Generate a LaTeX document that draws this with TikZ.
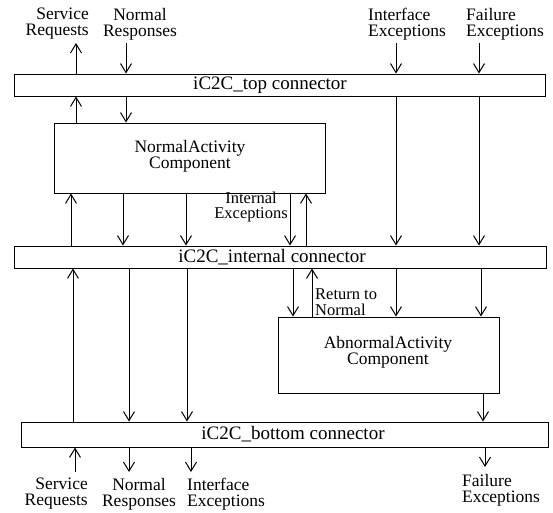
\documentclass[tikz,border=0pt]{standalone}
\usepackage{fontspec}
\setmainfont{Liberation Serif}
\usetikzlibrary{arrows.meta}
\begin{document}
\begin{tikzpicture}[x=1pt,y=-1pt,
  box/.style={draw,line width=1pt,inner sep=0pt,rectangle},
  lbl/.style={inner sep=0pt,font=\fontsize{17.5}{16}\selectfont},
  ctxt/.style={inner sep=0pt,font=\fontsize{19}{15}\selectfont},
  tight/.style={inner sep=0pt,font=\fontsize{16.5}{15.5}\selectfont},
  arr/.style={-{Straight Barb[length=9pt,width=11pt,line width=1pt]},line width=1pt}]
\useasboundingbox (0,0) rectangle (553,512);
% boxes
\node[box,minimum width=531pt,minimum height=22pt] (top) at (279.5,85) {};
\node[ctxt] (toptext) at (270,85) {iC2C\_top connector};
\node[box,minimum width=271pt,minimum height=70pt] (na) at (189.5,158) {};
\node[lbl,align=center] (natext) at (190,156.5) {NormalActivity\\Component};
\node[box,minimum width=532pt,minimum height=22pt] (int) at (280,257) {};
\node[ctxt] (inttext) at (272,257) {iC2C\_internal connector};
\node[box,minimum width=221pt,minimum height=76pt] (ab) at (388.5,355) {};
\node[lbl,align=center] (abtext) at (388,352.5) {AbnormalActivity\\Component};
\node[box,minimum width=527pt,minimum height=25pt] (bot) at (284.5,434.5) {};
\node[ctxt] (bottext) at (293,434.5) {iC2C\_bottom connector};
% top labels
\node[lbl,align=right,anchor=east] (sr1) at (89,24) {Service\\Requests};
\node[lbl,align=center] (nr1) at (140,24) {Normal\\Responses};
\node[lbl,align=left,anchor=west] (ie1) at (368,24) {Interface\\Exceptions};
\node[lbl,align=left,anchor=west] (fe1) at (466,24) {Failure\\Exceptions};
\node[tight,align=center] (iex) at (251,207) {Internal\\Exceptions};
\node[tight,align=left,anchor=west] (rtn) at (315,302) {Return to\\Normal};
% bottom labels
\node[lbl,align=right,anchor=east] (sr2) at (88,494) {Service\\Requests};
\node[lbl,align=center] (nr2) at (139,494) {Normal\\Responses};
\node[lbl,align=left,anchor=west] (ie2) at (187,494) {Interface\\Exceptions};
\node[lbl,align=left,anchor=west] (fe2) at (462,490) {Failure\\Exceptions};
% free ends
\coordinate (t1) at (76,43);
\coordinate (t2) at (126,43);
\coordinate (t3) at (396,43);
\coordinate (t4) at (479,43);
\coordinate (b1) at (75,472);
\coordinate (b2) at (129,472);
\coordinate (b3) at (191,472);
\coordinate (b4) at (485,467);
% above top
\draw[arr] (top.north -| t1) -- (t1);
\draw[arr] (t2) -- (top.north -| t2);
\draw[arr] (t3) -- (top.north -| t3);
\draw[arr] (t4) -- (top.north -| t4);
% top <-> NA
\draw[arr] (na.north -| 76,0) -- (top.south -| 76,0);
\draw[arr] (top.south -| 126,0) -- (na.north -| 126,0);
% top -> internal
\draw[arr] (top.south -| 396,0) -- (int.north -| 396,0);
\draw[arr] (top.south -| 479,0) -- (int.north -| 479,0);
% NA <-> internal
\draw[arr] (int.north -| 71,0) -- (na.south -| 71,0);
\draw[arr] (na.south -| 123,0) -- (int.north -| 123,0);
\draw[arr] (na.south -| 186,0) -- (int.north -| 186,0);
\draw[arr] (na.south -| 290,0) -- (int.north -| 290,0);
\draw[arr] (int.north -| 306,0) -- (na.south -| 306,0);
% internal <-> bottom
\draw[arr] (bot.north -| 73,0) -- (int.south -| 73,0);
\draw[arr] (int.south -| 129,0) -- (bot.north -| 129,0);
\draw[arr] (int.south -| 187,0) -- (bot.north -| 187,0);
% internal <-> AB
\draw[arr] (int.south -| 293,0) -- (ab.north -| 293,0);
\draw[arr] (ab.north -| 312,0) -- (int.south -| 312,0);
\draw[arr] (int.south -| 396,0) -- (ab.north -| 396,0);
\draw[arr] (int.south -| 481,0) -- (ab.north -| 481,0);
% AB -> bottom
\draw[arr] (ab.south -| 483,0) -- (bot.north -| 483,0);
% below bottom
\draw[arr] (b1) -- (bot.south -| b1);
\draw[arr] (bot.south -| b2) -- (b2);
\draw[arr] (bot.south -| b3) -- (b3);
\draw[arr] (bot.south -| b4) -- (b4);
\end{tikzpicture}
\end{document}
